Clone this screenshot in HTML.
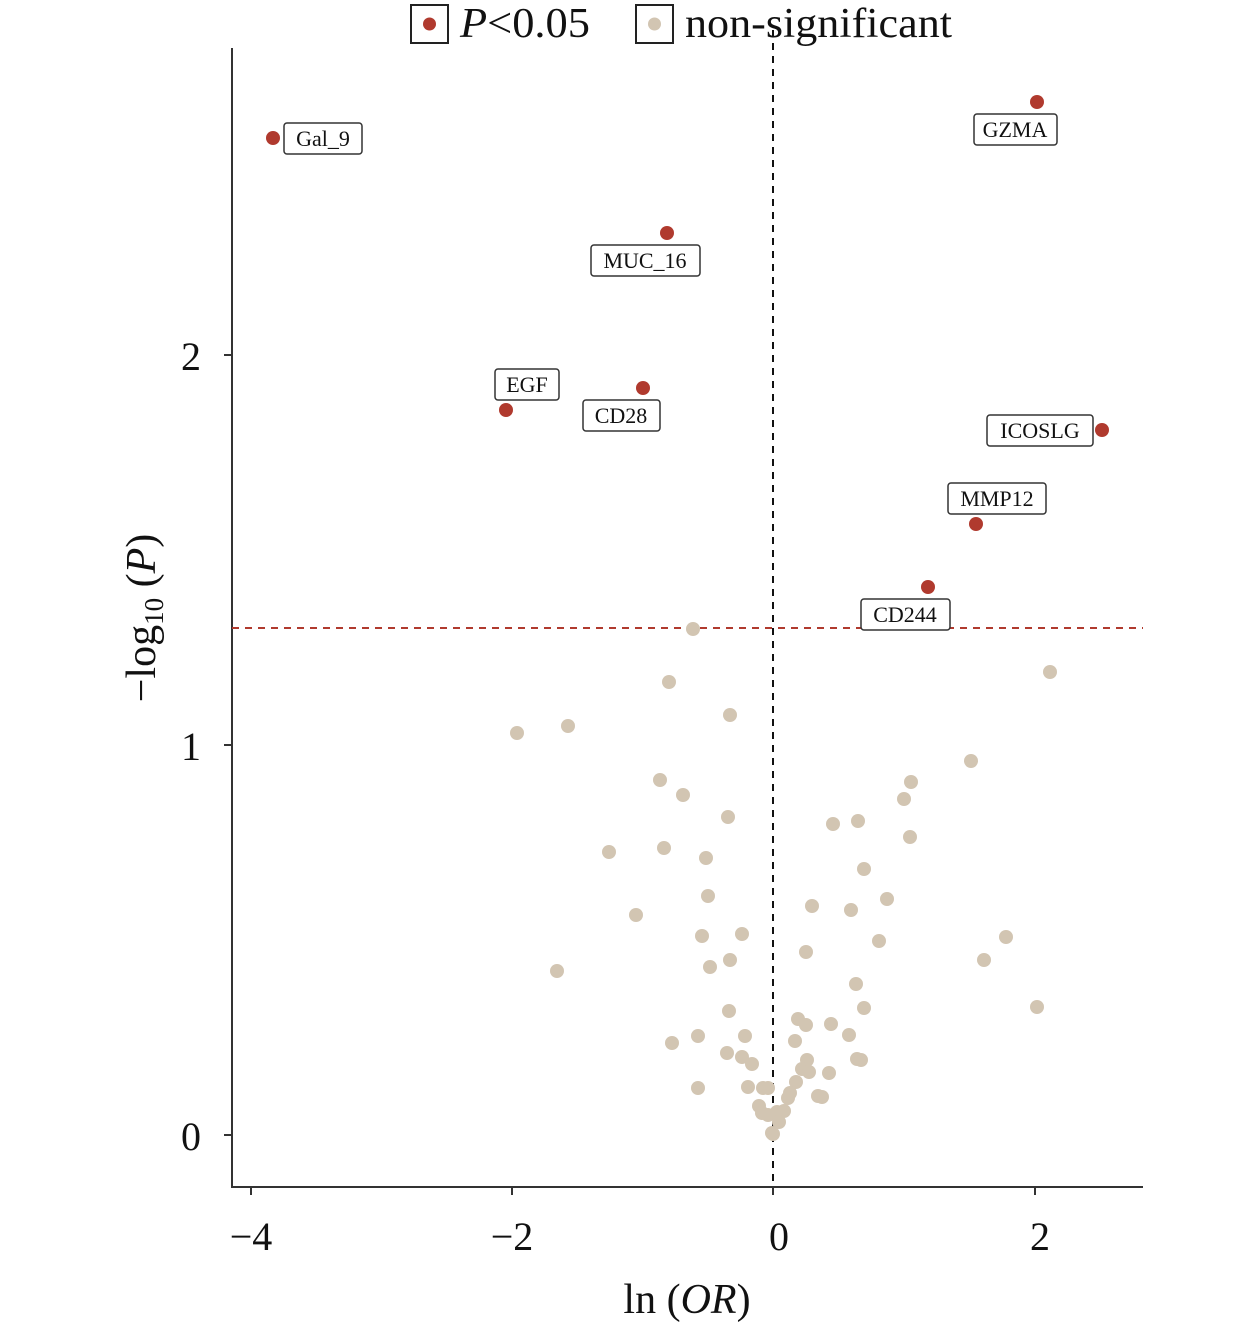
<!DOCTYPE html><html><head><style>body{margin:0;background:#fff}svg{display:block}text{font-family:"Liberation Serif",serif;fill:#111}</style></head><body>
<svg width="1259" height="1328" viewBox="0 0 1259 1328" xmlns="http://www.w3.org/2000/svg">
<rect x="411" y="5" width="37" height="38" fill="none" stroke="#222" stroke-width="2"/><circle cx="429.5" cy="24" r="6.5" fill="#b03a2e"/>
<text x="460" y="37" font-size="42" textLength="130" lengthAdjust="spacingAndGlyphs"><tspan font-style="italic">P</tspan>&lt;0.05</text>
<rect x="636" y="5" width="37" height="38" fill="none" stroke="#222" stroke-width="2"/><circle cx="654.5" cy="24" r="6.5" fill="#d2c5b2"/>
<text x="685" y="37" font-size="42" textLength="267" lengthAdjust="spacingAndGlyphs">non-significant</text>
<g stroke="#333" stroke-width="2" fill="none"><path d="M232 48V1187H1143"/><path d="M224 355H232M224 745H232M224 1135H232"/><path d="M251 1187V1195M512 1187V1195M773 1187V1195M1035 1187V1195"/></g>
<line x1="773" y1="30" x2="773" y2="1187" stroke="#111" stroke-width="2" stroke-dasharray="7,6"/>
<line x1="232" y1="628" x2="1143" y2="628" stroke="#b03a2e" stroke-width="2" stroke-dasharray="7,6"/>
<g font-size="40" text-anchor="end"><text x="201" y="370">2</text><text x="201" y="760">1</text><text x="201" y="1150">0</text></g>
<g font-size="40" text-anchor="middle"><text x="251" y="1250">−4</text><text x="512" y="1250">−2</text><text x="779" y="1250">0</text><text x="1040" y="1250">2</text></g>
<text x="687" y="1313" font-size="42" text-anchor="middle">ln (<tspan font-style="italic">OR</tspan>)</text>
<text transform="translate(155,618) rotate(-90)" font-size="42" text-anchor="middle">−log<tspan font-size="27" dy="8">10</tspan><tspan dy="-8"> (</tspan><tspan font-style="italic">P</tspan>)</text>
<g fill="#b03a2e"><circle cx="273" cy="138" r="7"/><circle cx="1037" cy="102" r="7"/><circle cx="667" cy="233" r="7"/><circle cx="643" cy="388" r="7"/><circle cx="506" cy="410" r="7"/><circle cx="1102" cy="430" r="7"/><circle cx="976" cy="524" r="7"/><circle cx="928" cy="587" r="7"/></g>
<g fill="#fff" stroke="#333" stroke-width="1.5"><rect x="284" y="123" width="78" height="31" rx="3"/><rect x="974" y="114" width="83" height="31" rx="3"/><rect x="591" y="245" width="109" height="31" rx="3"/><rect x="495" y="369" width="64" height="31" rx="3"/><rect x="583" y="400" width="77" height="31" rx="3"/><rect x="987" y="415" width="106" height="31" rx="3"/><rect x="948" y="483" width="98" height="31" rx="3"/><rect x="861" y="599" width="89" height="31" rx="3"/></g>
<g font-size="22" text-anchor="middle"><text x="323" y="146">Gal_9</text><text x="1015" y="137">GZMA</text><text x="645" y="268">MUC_16</text><text x="527" y="392">EGF</text><text x="621" y="423">CD28</text><text x="1040" y="438">ICOSLG</text><text x="997" y="506">MMP12</text><text x="905" y="622">CD244</text></g>
<g fill="#d2c5b2">
<circle cx="693" cy="629" r="7"/><circle cx="669" cy="682" r="7"/><circle cx="730" cy="715" r="7"/><circle cx="568" cy="726" r="7"/><circle cx="517" cy="733" r="7"/><circle cx="1050" cy="672" r="7"/><circle cx="971" cy="761" r="7"/><circle cx="911" cy="782" r="7"/><circle cx="904" cy="799" r="7"/><circle cx="910" cy="837" r="7"/><circle cx="660" cy="780" r="7"/><circle cx="683" cy="795" r="7"/><circle cx="728" cy="817" r="7"/><circle cx="833" cy="824" r="7"/><circle cx="858" cy="821" r="7"/><circle cx="609" cy="852" r="7"/><circle cx="664" cy="848" r="7"/><circle cx="706" cy="858" r="7"/><circle cx="864" cy="869" r="7"/><circle cx="708" cy="896" r="7"/><circle cx="887" cy="899" r="7"/><circle cx="812" cy="906" r="7"/><circle cx="851" cy="910" r="7"/><circle cx="636" cy="915" r="7"/><circle cx="702" cy="936" r="7"/><circle cx="742" cy="934" r="7"/><circle cx="879" cy="941" r="7"/><circle cx="1006" cy="937" r="7"/><circle cx="806" cy="952" r="7"/><circle cx="730" cy="960" r="7"/><circle cx="710" cy="967" r="7"/><circle cx="984" cy="960" r="7"/><circle cx="557" cy="971" r="7"/><circle cx="856" cy="984" r="7"/><circle cx="864" cy="1008" r="7"/><circle cx="1037" cy="1007" r="7"/><circle cx="729" cy="1011" r="7"/><circle cx="798" cy="1019" r="7"/><circle cx="806" cy="1025" r="7"/><circle cx="831" cy="1024" r="7"/><circle cx="698" cy="1036" r="7"/><circle cx="745" cy="1036" r="7"/><circle cx="849" cy="1035" r="7"/><circle cx="672" cy="1043" r="7"/><circle cx="795" cy="1041" r="7"/><circle cx="727" cy="1053" r="7"/><circle cx="742" cy="1057" r="7"/><circle cx="752" cy="1064" r="7"/><circle cx="807" cy="1060" r="7"/><circle cx="857" cy="1059" r="7"/><circle cx="861" cy="1060" r="7"/><circle cx="802" cy="1069" r="7"/><circle cx="809" cy="1072" r="7"/><circle cx="829" cy="1073" r="7"/><circle cx="748" cy="1087" r="7"/><circle cx="698" cy="1088" r="7"/><circle cx="763" cy="1088" r="7"/><circle cx="768" cy="1088" r="7"/><circle cx="796" cy="1082" r="7"/><circle cx="790" cy="1093" r="7"/><circle cx="788" cy="1098" r="7"/><circle cx="818" cy="1096" r="7"/><circle cx="822" cy="1097" r="7"/><circle cx="759" cy="1106" r="7"/><circle cx="762" cy="1113" r="7"/><circle cx="768" cy="1115" r="7"/><circle cx="777" cy="1112" r="7"/><circle cx="784" cy="1111" r="7"/><circle cx="779" cy="1122" r="7"/><circle cx="772" cy="1133" r="7"/><circle cx="773" cy="1134" r="7"/>
</g>
</svg></body></html>
